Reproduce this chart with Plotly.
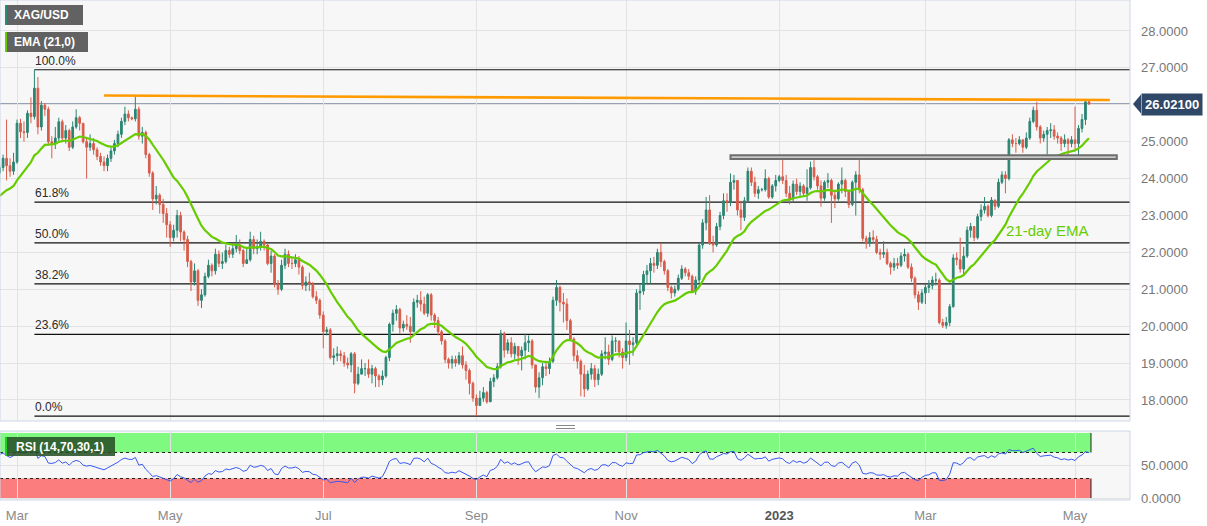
import pandas as pd
import plotly.graph_objects as go

# ---------------- data (XAG/USD daily) ----------------
start_date = "2022-02-22"
end_date = "2023-05-05"
first_open = 24.15

closes = [
    24.30, 24.55, 24.35, 24.20, 24.45,
    25.50, 25.27, 25.25, 25.77, 25.68, 26.45, 25.40, 25.99, 25.88, 25.00, 24.95, 25.10, 25.54, 25.10, 25.30, 24.85, 25.40, 25.65, 25.50, 25.00, 24.85, 24.95, 24.78,
    24.60, 24.45, 24.35, 24.55, 24.75, 24.95, 25.20, 25.55, 25.75, 25.65, 25.62, 25.88, 25.15, 25.25, 24.65, 24.15, 23.45, 23.55, 23.30, 23.05, 22.75,
    22.40, 22.60, 23.00, 22.55, 22.35, 21.75, 21.20, 21.50, 20.70, 20.85, 21.35, 21.65, 21.50, 21.95, 21.70, 21.75, 22.05, 21.95, 22.10, 22.20, 22.05, 21.70,
    21.80, 22.35, 22.10, 22.15, 22.30, 22.20, 21.70, 21.90, 21.15, 21.00, 21.65, 21.95, 21.70, 21.70, 21.80, 21.60, 21.10, 21.20, 21.15, 20.80, 20.70, 20.30,
    19.85, 19.90, 19.15, 19.20, 19.25, 19.20, 19.00, 18.95, 19.25, 18.45, 18.70, 18.85, 18.85, 18.70, 18.85, 18.65, 18.55, 18.65, 19.15, 20.05, 20.35,
    20.45, 19.95, 20.05, 20.00, 19.85, 20.65, 20.70, 20.60, 20.35, 20.85, 20.30, 20.15, 19.85, 19.60, 19.10, 19.00, 19.10, 19.00, 19.20, 18.95, 18.80, 18.45, 18.05,
    17.85, 18.05, 18.20, 17.95, 18.50, 18.60, 18.90, 19.80, 19.35, 19.55, 19.25, 19.45, 19.20, 19.35, 19.55, 19.60, 18.95, 18.35, 18.60, 18.90, 18.85, 19.05,
    20.70, 21.05, 20.65, 20.60, 20.15, 19.65, 19.20, 19.05, 18.70, 18.30, 18.70, 18.85, 18.55, 18.70, 19.25, 19.30, 19.10, 19.60, 19.60, 19.30, 19.15,
    19.60, 19.50, 19.55, 20.90, 20.95, 21.40, 21.50, 21.70, 21.65, 22.00, 21.75, 21.50, 21.05, 20.90, 21.00, 21.30, 21.55, 21.45, 21.35, 20.95, 21.25, 22.20,
    22.80, 23.15, 22.25, 22.20, 22.70, 23.00, 23.40, 23.35, 23.90, 23.95, 23.15, 22.95, 23.40, 24.20, 23.90, 23.60, 23.70, 23.70, 24.00, 23.50, 23.80, 23.95,
    24.05, 23.95, 23.60, 23.45, 23.85, 23.65, 23.80, 23.60, 23.75, 24.30, 24.05, 23.80, 23.47, 23.90, 23.95, 23.55, 23.45, 23.85, 23.95, 23.65, 23.30, 23.90,
    24.10, 23.70, 22.38, 22.25, 22.40, 22.35, 22.00, 21.95, 22.00, 21.70, 21.60, 21.70, 21.65, 21.90, 21.95, 21.60, 21.30, 20.85, 20.65, 20.90,
    21.05, 21.10, 21.25, 21.25, 20.10, 20.02, 20.10, 20.53, 21.85, 21.80, 21.55, 21.90, 22.60, 22.70, 22.40, 22.97, 23.15, 23.25, 23.00, 23.42, 23.25, 23.90, 24.10,
    24.00, 25.05, 24.95, 24.95, 25.05, 24.85, 25.10, 25.55, 25.85, 25.40, 25.10, 25.20, 25.30, 25.32, 25.15, 25.10, 24.95, 25.05, 24.95, 25.05,
    24.95, 25.36, 25.60, 26.08, 26.021,
]

highs = [
    24.40, 24.65, 25.60, 24.55, 24.70,
    25.60, 25.62, 25.55, 25.85, 26.20, 26.95, 26.75, 26.10, 26.05, 25.95, 25.15, 25.40, 25.65, 25.60, 25.45, 25.35, 25.55, 25.88, 25.70, 25.50, 25.10, 25.20, 25.10,
    24.85, 24.70, 24.60, 24.65, 24.85, 25.05, 25.30, 25.65, 25.95, 25.85, 25.68, 26.22, 25.95, 25.40, 25.30, 24.70, 24.20, 23.80, 23.60, 23.45, 23.20,
    22.85, 22.75, 23.15, 23.10, 22.60, 22.45, 21.80, 21.70, 21.55, 21.00, 21.45, 21.80, 21.70, 22.10, 22.05, 22.00, 22.20, 22.15, 22.20, 22.47, 22.35, 22.10,
    22.15, 22.56, 22.45, 22.35, 22.56, 22.35, 22.25, 22.05, 21.95, 21.25, 21.80, 22.10, 22.05, 21.85, 21.95, 21.90, 21.65, 21.35, 21.45, 21.20, 20.95, 20.75,
    20.40, 19.98, 19.95, 19.40, 19.45, 19.35, 19.30, 19.15, 19.30, 19.30, 18.90, 19.10, 19.00, 19.10, 18.95, 18.90, 18.70, 18.80, 19.20, 20.10, 20.45,
    20.57, 20.50, 20.15, 20.30, 20.25, 20.75, 20.85, 20.95, 20.80, 20.90, 20.90, 20.35, 20.25, 19.90, 19.65, 19.15, 19.20, 19.20, 19.30, 19.45, 19.05, 18.85, 18.50,
    18.15, 18.25, 18.35, 18.25, 18.60, 18.70, 19.00, 19.90, 19.85, 19.65, 19.70, 19.55, 19.45, 19.45, 19.80, 19.75, 19.65, 18.95, 18.75, 19.00, 19.05, 19.15,
    20.80, 21.25, 21.10, 20.90, 20.75, 20.20, 19.70, 19.35, 19.10, 18.95, 18.80, 19.00, 18.95, 18.85, 19.35, 19.70, 19.50, 19.75, 19.70, 19.60, 19.40,
    20.10, 19.90, 19.70, 21.00, 21.15, 21.50, 21.66, 21.85, 21.88, 22.10, 22.25, 21.80, 21.55, 21.10, 21.10, 21.40, 21.65, 21.60, 21.55, 21.40, 21.35, 22.25,
    22.90, 23.50, 23.55, 22.45, 22.80, 23.10, 23.60, 23.60, 24.14, 24.10, 23.95, 23.40, 23.50, 24.30, 24.30, 24.05, 23.80, 23.75, 24.25, 24.05, 23.85, 24.10,
    24.10, 24.60, 24.10, 23.80, 23.95, 24.00, 23.90, 23.85, 24.25, 24.46, 24.50, 24.10, 23.95, 23.95, 24.15, 24.00, 23.70, 23.90, 24.30, 24.00, 23.70, 23.95,
    24.20, 24.65, 23.75, 22.45, 22.55, 22.60, 22.45, 22.10, 22.30, 22.10, 21.75, 21.85, 21.85, 22.00, 22.10, 22.00, 21.70, 21.35, 20.95, 21.00,
    21.15, 21.25, 21.35, 21.45, 21.30, 20.20, 20.25, 20.60, 21.95, 22.00, 22.40, 22.15, 22.70, 22.80, 22.70, 23.05, 23.30, 23.50, 23.30, 23.50, 23.40, 24.00, 24.20,
    24.20, 25.10, 25.20, 25.10, 25.15, 25.05, 25.25, 25.65, 25.95, 26.08, 25.45, 25.30, 25.40, 25.50, 25.45, 25.25, 25.15, 25.20, 25.10, 25.15,
    25.95, 25.45, 25.75, 26.12, 26.15,
]

lows = [
    23.90, 24.20, 23.95, 24.05, 24.10,
    24.40, 25.10, 25.00, 25.10, 25.50, 25.60, 25.20, 25.30, 25.70, 24.90, 24.55, 24.80, 25.00, 25.00, 24.95, 24.75, 24.80, 25.35, 25.30, 24.95, 24.00, 24.75, 24.65,
    24.50, 24.35, 24.20, 24.20, 24.45, 24.65, 24.85, 25.10, 25.45, 25.55, 25.58, 25.55, 25.05, 24.95, 24.55, 24.05, 23.15, 23.30, 23.05, 22.80, 22.40,
    22.15, 22.30, 22.40, 22.30, 22.05, 21.60, 20.95, 21.10, 20.55, 20.49, 20.80, 21.30, 21.35, 21.40, 21.60, 21.55, 21.70, 21.85, 21.85, 22.00, 21.95, 21.60,
    21.70, 21.75, 21.95, 21.95, 22.05, 22.05, 21.65, 21.45, 21.05, 20.85, 20.95, 21.55, 21.60, 21.55, 21.60, 21.40, 21.00, 20.95, 20.95, 20.75, 20.60, 20.20,
    19.40, 19.75, 19.10, 18.95, 19.05, 19.05, 18.90, 18.85, 18.75, 18.18, 18.40, 18.70, 18.65, 18.60, 18.45, 18.35, 18.35, 18.40, 18.60, 19.05, 19.85,
    20.15, 19.80, 19.85, 19.90, 19.55, 19.85, 20.50, 20.40, 20.30, 20.25, 20.15, 19.95, 19.75, 19.50, 19.00, 18.85, 18.85, 18.90, 18.95, 18.85, 18.55, 18.15, 17.95,
    17.56, 17.85, 17.95, 17.90, 17.95, 18.35, 18.55, 18.85, 19.15, 19.25, 19.15, 19.10, 18.95, 18.80, 19.10, 19.30, 18.85, 18.20, 18.05, 18.40, 18.65, 18.70,
    19.00, 20.55, 20.40, 20.10, 19.90, 19.60, 19.05, 18.85, 18.10, 18.08, 18.25, 18.55, 18.35, 18.40, 18.65, 19.10, 18.95, 19.05, 19.30, 19.15, 18.85,
    19.05, 18.95, 19.20, 19.50, 20.44, 20.85, 21.15, 21.15, 21.45, 21.55, 21.60, 21.40, 20.95, 20.75, 20.80, 20.95, 21.25, 21.35, 21.25, 20.90, 20.85, 21.15,
    22.10, 22.60, 22.20, 22.00, 22.15, 22.60, 22.90, 23.10, 23.25, 23.70, 23.00, 22.60, 22.85, 23.35, 23.80, 23.50, 23.45, 23.65, 23.65, 23.45, 23.45, 23.65,
    23.90, 23.85, 23.50, 23.30, 23.35, 23.55, 23.50, 23.50, 23.40, 23.70, 23.95, 23.70, 23.24, 23.40, 23.75, 22.80, 23.20, 23.40, 23.60, 23.50, 23.20, 23.25,
    23.00, 23.60, 22.30, 22.10, 22.15, 22.25, 21.95, 21.80, 21.85, 21.65, 21.40, 21.50, 21.55, 21.60, 21.75, 21.55, 21.20, 20.75, 20.44, 20.60,
    20.60, 20.90, 21.00, 21.10, 20.05, 19.95, 19.93, 20.00, 20.50, 21.65, 21.45, 21.40, 21.85, 22.40, 22.30, 22.35, 22.85, 23.05, 22.95, 22.95, 23.15, 23.20, 23.85,
    23.60, 23.95, 24.85, 24.70, 24.90, 24.70, 24.80, 25.05, 25.50, 25.30, 24.95, 25.00, 24.65, 25.10, 25.05, 24.95, 24.75, 24.85, 24.55, 24.85,
    24.80, 24.60, 25.25, 25.45, 26.00,
]

ema_period = 21
ema_seed = 23.45          # EMA level at the left edge
rsi_period = 14
rsi_seed_gain = 0.17
rsi_seed_loss = 0.09

fib_ratios = [0.0, 0.236, 0.382, 0.5, 0.618, 1.0]
fib_labels = ["0.0%", "23.6%", "38.2%", "50.0%", "61.8%", "100.0%"]

trend_start = ("2022-04-05", 26.25)
trend_end = ("2023-05-15", 26.13)
zone_x = ("2022-12-13", "2023-05-17")
zone_y = (24.53, 24.63)

x_tickvals = ["2022-03-01", "2022-05-02", "2022-07-01", "2022-09-01",
              "2022-11-01", "2023-01-02", "2023-03-01", "2023-05-01"]
x_ticktext = ["Mar", "May", "Jul", "Sep", "Nov",
              "<span style='color:#555'><b>2023</b></span>", "Mar", "May"]
y_tickvals = list(range(18, 29))
x_range = ["2022-02-22 02:40", "2023-05-22 19:00"]
y_range = [17.43, 28.84]
rsi_range = [-3, 103]

# ---------------- derived ----------------
dates = pd.bdate_range(start_date, end_date)
assert len(dates) == len(closes) == len(highs) == len(lows), (len(dates), len(closes), len(highs), len(lows))
opens = [first_open] + closes[:-1]
highs = [max(h, o, c) for h, o, c in zip(highs, opens, closes)]
lows = [min(l, o, c) for l, o, c in zip(lows, opens, closes)]

alpha = 2.0 / (ema_period + 1)
ema, e = [], ema_seed
for c in closes:
    e = e + alpha * (c - e)
    ema.append(e)

rsi, g, l, prev = [], rsi_seed_gain, rsi_seed_loss, first_open
for c in closes:
    d = c - prev
    g = (g * (rsi_period - 1) + max(d, 0)) / rsi_period
    l = (l * (rsi_period - 1) + max(-d, 0)) / rsi_period
    rsi.append(100 - 100 / (1 + g / l))
    prev = c

hi_idx = highs.index(max(highs))
fib_hi, fib_lo = highs[hi_idx], min(lows)
fib_x0 = dates[hi_idx]
last_price = closes[-1]
last_date = dates[-1]
band_end = last_date + pd.Timedelta(hours=14)

# ---------------- figure ----------------
W, H = 1207, 526
def px(x): return x / W
def py(y): return 1 - y / H

XR = 1130 / W
main_dom = [py(421), 1.0]
rsi_dom = [py(500), py(431)]
FONT = "Liberation Sans, Arial, sans-serif"
UP, DOWN = "#2b8572", "#d85c4b"
EMA_C = "#66cc00"

fig = go.Figure()
fig.add_trace(go.Candlestick(
    x=dates, open=opens, high=highs, low=lows, close=closes,
    increasing=dict(line=dict(color=UP, width=1), fillcolor=UP),
    decreasing=dict(line=dict(color=DOWN, width=1), fillcolor=DOWN),
    whiskerwidth=0, showlegend=False, hoverinfo="skip", xaxis="x", yaxis="y"))
fig.add_trace(go.Scatter(x=dates, y=ema, mode="lines", line=dict(color=EMA_C, width=2.2),
                         showlegend=False, hoverinfo="skip", xaxis="x", yaxis="y"))
fig.add_trace(go.Scatter(x=dates, y=rsi, mode="lines", line=dict(color="#3658f0", width=1),
                         showlegend=False, hoverinfo="skip", xaxis="x2", yaxis="y2"))

shapes = []
# panel borders
for dom in (main_dom, rsi_dom):
    shapes.append(dict(type="rect", xref="paper", yref="paper", x0=0, x1=XR, y0=dom[0], y1=dom[1],
                       line=dict(color="#cdd5e5", width=1), layer="above"))
# Fibonacci lines
for r in fib_ratios:
    lvl = fib_lo + r * (fib_hi - fib_lo)
    shapes.append(dict(type="line", xref="x", yref="y", x0=fib_x0, x1=x_range[1], y0=lvl, y1=lvl,
                       line=dict(color="#111111", width=1.2), layer="between"))
# current price line
shapes.append(dict(type="line", xref="paper", yref="y", x0=0, x1=XR, y0=last_price, y1=last_price,
                   line=dict(color="#3b4d72", width=1.2), layer="between"))
# resistance line
shapes.append(dict(type="line", xref="x", yref="y", x0=trend_start[0], y0=trend_start[1],
                   x1=trend_end[0], y1=trend_end[1], line=dict(color="#ff9a00", width=2.6), layer="above"))
# support zone
shapes.append(dict(type="rect", xref="x", yref="y", x0=zone_x[0], x1=zone_x[1], y0=zone_y[0], y1=zone_y[1],
                   line=dict(color="#6e6e6e", width=2), fillcolor="#c8c8c8", layer="above"))
# RSI bands
shapes.append(dict(type="rect", xref="x2", yref="y2", x0=x_range[0], x1=band_end, y0=70, y1=100,
                   line=dict(width=0), fillcolor="#7ff97f", layer="below"))
shapes.append(dict(type="rect", xref="x2", yref="y2", x0=x_range[0], x1=band_end, y0=0, y1=30,
                   line=dict(width=0), fillcolor="#fb7d7d", layer="below"))
for lv in (70, 30):
    shapes.append(dict(type="line", xref="x2", yref="y2", x0=x_range[0], x1=band_end, y0=lv, y1=lv,
                       line=dict(color="#222222", width=1, dash="dot"), layer="between"))
for y0, y1 in ((70, 100), (0, 30)):
    shapes.append(dict(type="line", xref="x2", yref="y2", x0=band_end, x1=band_end, y0=y0, y1=y1,
                       line=dict(color="#222222", width=1), layer="between"))
# panel separator handle
for yy in (425.5, 428.5):
    shapes.append(dict(type="line", xref="paper", yref="paper", x0=px(556), x1=px(575), y0=py(yy), y1=py(yy),
                       line=dict(color="#888888", width=1)))
# legend boxes
boxes = [((5, 83, 5, 25), "#2a8a78", "#626262"),
         ((5, 88, 32, 52), EMA_C, "#626262"),
         ((5, 115, 437, 456), "#22cc22", "rgba(40,80,40,0.88)")]
for (x0, x1, y0, y1), acc, fill in boxes:
    shapes.append(dict(type="rect", xref="paper", yref="paper", x0=px(x0), x1=px(x1), y0=py(y1), y1=py(y0),
                       line=dict(width=0), fillcolor=fill, layer="above"))
    shapes.append(dict(type="rect", xref="paper", yref="paper", x0=px(x0), x1=px(x0 + 2), y0=py(y1), y1=py(y0),
                       line=dict(width=0), fillcolor=acc, layer="above"))
# price tag arrow
shapes.append(dict(type="path", xref="paper", yref="y",
                   path=f"M {px(1133)} {last_price} L {px(1141)} {last_price + 0.26} "
                        f"L {px(1141)} {last_price - 0.26} Z",
                   fillcolor="#2f4868", line=dict(width=0), layer="above"))

annotations = []
for r, lab in zip(fib_ratios, fib_labels):
    lvl = fib_lo + r * (fib_hi - fib_lo)
    annotations.append(dict(x=fib_x0, y=lvl, xref="x", yref="y", text=lab, showarrow=False,
                            xanchor="left", yanchor="bottom", xshift=-1, yshift=0,
                            font=dict(family=FONT, size=12, color="#2a2a2a")))
annotations.append(dict(x="2023-04-19", y=22.6, xref="x", yref="y", text="21-day EMA", showarrow=False,
                        font=dict(family=FONT, size=15, color=EMA_C)))
annotations.append(dict(x=px(1141), y=last_price, xref="paper", yref="y", text=f"<b>{last_price:.5f}</b>",
                        showarrow=False, xanchor="left", yanchor="middle", bgcolor="#2f4868",
                        borderpad=3, font=dict(family=FONT, size=13, color="white")))
for (x0, y0, y1), txt in (((12, 5, 25), "XAG/USD"), ((12, 32, 52), "EMA (21,0)"),
                          ((14, 437, 456), "RSI (14,70,30,1)")):
    annotations.append(dict(x=px(x0), y=py((y0 + y1) / 2), xref="paper", yref="paper", text=f"<b>{txt}</b>",
                            showarrow=False, xanchor="left", yanchor="middle",
                            font=dict(family=FONT, size=12, color="white")))

xcommon = dict(type="date", range=x_range, rangebreaks=[dict(bounds=["sat", "mon"])],
               tickvals=x_tickvals, showgrid=True, gridcolor="#e3e3e3", gridwidth=1,
               zeroline=False, showline=False, domain=[0, XR], fixedrange=True)

# the price tag replaces the tick label nearest to the last price
y_ticktext = ["" if abs(v - last_price) < 0.3 else f"{v:.4f}" for v in y_tickvals]

fig.update_layout(
    width=W, height=H, margin=dict(l=0, r=0, t=0, b=0, autoexpand=False),
    paper_bgcolor="white", plot_bgcolor="#f7f7f7",
    font=dict(family=FONT, size=13, color="#777777"),
    showlegend=False,
    xaxis=dict(**xcommon, anchor="y", showticklabels=False, rangeslider=dict(visible=False)),
    xaxis2=dict(**xcommon, anchor="y2", matches="x", showticklabels=True, ticktext=x_ticktext,
                ticks="", ticklabelstandoff=6,
                tickfont=dict(family=FONT, size=13, color="#8a8a8a")),
    yaxis=dict(domain=main_dom, range=y_range, side="right", anchor="x", tickvals=y_tickvals,
               ticktext=y_ticktext, showgrid=True, gridcolor="#e3e3e3",
               zeroline=False, ticks="", ticklabelstandoff=10, automargin=False,
               tickfont=dict(family=FONT, size=13, color="#777777")),
    yaxis2=dict(domain=rsi_dom, range=rsi_range, side="right", anchor="x2", tickvals=[0, 50],
                ticktext=["0.0000", "50.0000"], showgrid=True, gridcolor="#e3e3e3",
                zeroline=False, ticks="", ticklabelstandoff=10, automargin=False,
                tickfont=dict(family=FONT, size=13, color="#777777")),
    shapes=shapes, annotations=annotations,
)

fig.write_html("out.html", config={"displayModeBar": False, "staticPlot": True},
               post_script="document.body.style.margin='0px';document.body.style.overflow='hidden';")
